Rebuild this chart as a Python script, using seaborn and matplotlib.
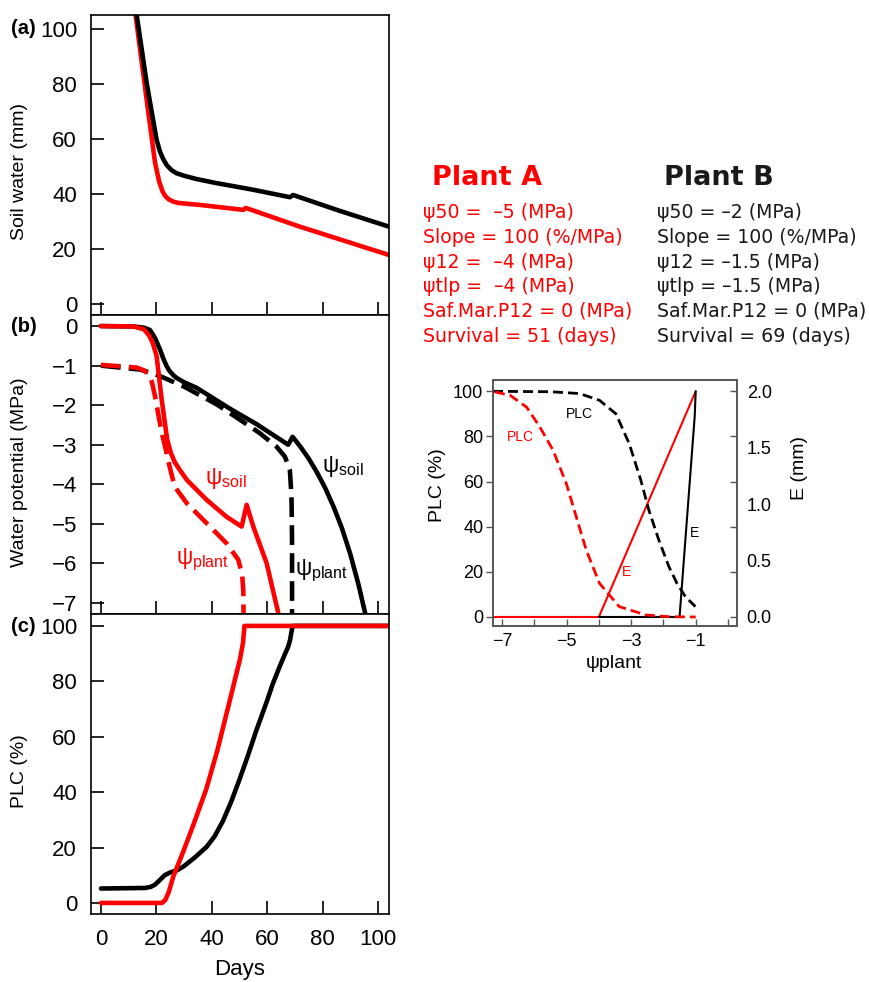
import numpy as np
import pandas as pd
import matplotlib
matplotlib.use('Agg')
import matplotlib.pyplot as plt
import seaborn as sns

# ---------------- data ----------------
# (a) soil water (mm)
sw_days_B = [0, 12.9, 16.5, 20.1, 21.3, 22.5, 23.7, 25.5, 27.3, 30.0, 34.5, 41.8, 55.0, 68.2, 69.4, 86.0, 104.0]
sw_B = [185, 105, 80.3, 59.6, 55.4, 52.6, 50.5, 48.6, 47.5, 46.6, 45.4, 43.9, 41.5, 38.8, 39.6, 33.9, 28.1]
sw_days_A = [0, 12.5, 16.5, 19.5, 21.0, 22.2, 23.2, 24.5, 26.1, 28.0, 35.7, 51.4, 52.3, 71.8, 104.0]
sw_A = [190, 105, 74.2, 51.5, 44.5, 41.0, 39.2, 38.0, 37.2, 36.7, 36.0, 34.2, 34.9, 28.1, 17.8]

# (b) water potential (MPa)
psis_days_A = [0, 11.7, 15.5, 17.5, 18.8, 20.1, 21.9, 23.9, 25.2, 26.7, 28.5, 31.0, 38.1, 45.3, 50.8, 52.6, 55.0, 59.8, 64.5]
psis_A = [0, -0.01, -0.08, -0.25, -0.45, -0.76, -1.85, -2.86, -3.2, -3.45, -3.64, -3.89, -4.39, -4.82, -5.07, -4.52, -5.07, -5.99, -7.4]
psip_days_A = [0, 12.9, 15.5, 17.1, 18.4, 19.5, 21.9, 23.1, 24.6, 26.6, 31.0, 38.1, 45.3, 49.6, 51.0, 51.4, 51.5]
psip_A = [-0.98, -1.05, -1.12, -1.22, -1.42, -1.77, -2.69, -3.03, -3.5, -4.06, -4.48, -4.98, -5.49, -5.91, -6.3, -6.7, -7.4]
psis_days_B = [0, 11.7, 15.5, 17.7, 19.5, 21.3, 22.5, 23.7, 24.6, 26.1, 27.3, 30.0, 34.5, 46.6, 56.2, 67.6,
               69.2, 72.0, 75.0, 78.0, 81.0, 84.0, 87.0, 90.0, 93.0, 96.0]
psis_B = [0, -0.01, -0.04, -0.1, -0.3, -0.59, -0.82, -1.01, -1.12, -1.24, -1.31, -1.42, -1.56, -2.09, -2.48, -3.0,
          -2.8, -3.05, -3.35, -3.70, -4.10, -4.57, -5.11, -5.76, -6.54, -7.44]
psip_days_B = [0, 14.1, 18.9, 22.5, 29.7, 41.8, 52.6, 57.4, 63.4, 66.4, 68.2, 68.8, 69.0, 69.0]
psip_B = [-1.0, -1.1, -1.2, -1.3, -1.52, -1.98, -2.48, -2.71, -3.05, -3.3, -3.64, -4.31, -5.5, -7.4]

# (c) PLC (%)
plc_days_A = [0, 22.0, 23.2, 24.5, 26.1, 29.7, 33.3, 38.0, 42.0, 46.0, 50.2, 51.3, 51.8, 104]
plc_A = [0, 0, 1.0, 4.0, 9.5, 18.5, 28.0, 41.0, 55.0, 71.0, 88.0, 94.0, 100, 100]
plc_days_B = [0, 16, 18, 19.5, 21, 23, 25, 27.5, 30, 34, 38.2, 41, 44, 47, 50, 53, 56, 59.8, 62, 64.6, 66.5, 67.6, 68.3, 68.8, 69.2, 104]
plc_B = [5.2, 5.4, 5.8, 6.6, 8.0, 10.0, 11.0, 11.8, 13.3, 16.5, 20.3, 24.0, 29.5, 36.5, 44.5, 53.0, 62.0, 72.5, 79.0, 85.5, 90.0, 92.5, 95.0, 98.0, 100, 100]

# inset: PLC and E vs psi plant
ins_psi_B = [-7.28, -5.5, -4.6, -3.98, -3.47, -3.06, -2.7, -2.45, -2.14, -1.83, -1.58, -1.32, -1.01]
ins_plc_B = [100, 99.8, 99, 96, 90, 76.8, 60.6, 47.3, 34, 22.3, 14.9, 9, 4.6]
ins_psi_A = [-7.22, -6.75, -6.24, -5.83, -5.42, -5.01, -4.70, -4.39, -3.98, -3.37, -2.55, -1.83, -1.0]
ins_plc_A = [99.7, 98.2, 93, 84.2, 73.9, 59.2, 44.4, 29.6, 14.9, 4.6, 0.9, 0.1, 0]
e_psi_A = [-7.28, -4.0, -1.0]
e_A = [0, 0, 2.0]
e_psi_B = [-4.0, -1.5, -1.03, -1.0]
e_B = [0, 0, 1.78, 2.0]

params_A = ["ψ50 =  –5 (MPa)", "Slope = 100 (%/MPa)", "ψ12 =  –4 (MPa)",
            "ψtlp =  –4 (MPa)", "Saf.Mar.P12 = 0 (MPa)", "Survival = 51 (days)"]
params_B = ["ψ50 = –2 (MPa)", "Slope = 100 (%/MPa)", "ψ12 = –1.5 (MPa)",
            "ψtlp = –1.5 (MPa)", "Saf.Mar.P12 = 0 (MPa)", "Survival = 69 (days)"]

day_ticks = [0, 20, 40, 60, 80, 100]

# ---------------- style ----------------
sns.set_theme(style='white')
plt.rcParams['font.family'] = ['Liberation Sans', 'DejaVu Sans']
plt.rcParams['text.color'] = 'black'
plt.rcParams['axes.labelcolor'] = 'black'
plt.rcParams['lines.solid_capstyle'] = 'round'
plt.rcParams['lines.dash_capstyle'] = 'butt'
RED = '#ff0000'
BLK = '#000000'
DARK = '#1a1a1a'

W, H = 869, 982
fig = plt.figure(figsize=(W / 100, H / 100), dpi=100)
fig.patch.set_facecolor('white')


def box(l, t, r, b):
    return [l / W, 1 - b / H, (r - l) / W, (b - t) / H]


def line(ax, x, y, color, lw=3.3, dashes=None):
    df = pd.DataFrame({'x': x, 'y': y})
    sns.lineplot(data=df, x='x', y='y', ax=ax, color=color, linewidth=lw,
                 sort=False, estimator=None, legend=False)
    ln = ax.lines[-1]
    if dashes is not None:
        ln.set_dashes(dashes)
    return ln


axA = fig.add_axes(box(91, 15, 389, 315))
axB = fig.add_axes(box(91, 315, 389, 614))
axC = fig.add_axes(box(91, 614, 389, 914))

line(axA, sw_days_A, sw_A, RED)
line(axA, sw_days_B, sw_B, BLK)

line(axB, psip_days_B, psip_B, BLK, dashes=(4.3, 1.8))
line(axB, psis_days_B, psis_B, BLK)
line(axB, psip_days_A, psip_A, RED, dashes=(4.3, 1.8))
line(axB, psis_days_A, psis_A, RED)

line(axC, plc_days_B, plc_B, BLK)
line(axC, plc_days_A, plc_A, RED)

axA.set_ylim(-4, 105)
axA.set_yticks([0, 20, 40, 60, 80, 100])
axB.set_ylim(-7.28, 0.28)
axB.set_yticks([0, -1, -2, -3, -4, -5, -6, -7])
axC.set_ylim(-4, 104.3)
axC.set_yticks([0, 20, 40, 60, 80, 100])

for ax in (axA, axB, axC):
    ax.set_xlim(-3.6, 104)
    ax.set_xticks(day_ticks)
    ax.set_xlabel('')
    ax.set_ylabel('')
    ax.set_facecolor('white')
    for s in ax.spines.values():
        s.set_visible(True)
        s.set_color('black')
        s.set_linewidth(1.2)
    ax.tick_params(axis='both', which='major', direction='in', length=9.5, width=1.2,
                   colors='black', labelsize=16, bottom=True, left=True)
    ax.tick_params(axis='y', pad=10)
    ax.tick_params(axis='x', pad=11)
    ax.grid(False)
for ax in (axA, axB):
    ax.tick_params(axis='x', labelbottom=False)

# curve labels in (b)
axB.text(45.1, -3.85, r'$\mathregular{ψ_{soil}}$', color=RED, fontsize=16.5, ha='center', va='center')
axB.text(87.2, -3.55, r'$\mathregular{ψ_{soil}}$', color=BLK, fontsize=16.5, ha='center', va='center')
axB.text(36.6, -5.9, r'$\mathregular{ψ_{plant}}$', color=RED, fontsize=16.5, ha='center', va='center')
axB.text(79.8, -6.2, r'$\mathregular{ψ_{plant}}$', color=BLK, fontsize=16.5, ha='center', va='center')

# axis labels & panel letters
fig.text(20 / W, 1 - 172 / H, 'Soil water (mm)', rotation=90, ha='center', va='center', fontsize=14)
fig.text(20 / W, 1 - 472 / H, 'Water potential (MPa)', rotation=90, ha='center', va='center', fontsize=14)
fig.text(20 / W, 1 - 771 / H, 'PLC (%)', rotation=90, ha='center', va='center', fontsize=14)
fig.text(240 / W, 1 - 975 / H, 'Days', ha='center', va='baseline', fontsize=16)
for lab, yy in (('(a)', 29), ('(b)', 326), ('(c)', 626)):
    fig.text(11 / W, 1 - yy / H, lab, fontweight='bold', fontsize=14.5, ha='left', va='center')

# parameter text block
tf = ['DejaVu Sans']
fig.text(432 / W, 1 - 185 / H, 'Plant A', color=RED, fontsize=19.5, fontweight='bold',
         family=tf, ha='left', va='baseline')
fig.text(664 / W, 1 - 185 / H, 'Plant B', color=DARK, fontsize=19.5, fontweight='bold',
         family=tf, ha='left', va='baseline')
for i, (ta, tb) in enumerate(zip(params_A, params_B)):
    yb = 1 - (218.5 + i * 24.6) / H
    fig.text(423 / W, yb, ta, color=RED, fontsize=13.6, family=tf, ha='left', va='baseline')
    fig.text(657 / W, yb, tb, color=DARK, fontsize=13.6, family=tf, ha='left', va='baseline')

# ---------------- inset ----------------
axI = fig.add_axes(box(493, 380, 737, 626))
ax2 = axI.twinx()

line(ax2, e_psi_A, e_A, RED, lw=1.5)
line(ax2, e_psi_B, e_B, BLK, lw=1.5)
line(axI, ins_psi_B, ins_plc_B, BLK, lw=2.0, dashes=(3.6, 1.8))
line(axI, ins_psi_A, ins_plc_A, RED, lw=2.0, dashes=(3.6, 1.8))

axI.set_zorder(ax2.get_zorder() + 1)
axI.patch.set_visible(False)
ax2.patch.set_facecolor('white')

axI.set_xlim(-7.28, 0.28)
axI.set_ylim(-4, 105)
ax2.set_ylim(-0.08, 2.1)
axI.set_xticks([-7, -5, -3, -1])
axI.set_xticks([-6, -4, -2, 0], minor=True)
axI.set_yticks([0, 20, 40, 60, 80, 100])
axI.set_xlabel('')
axI.set_ylabel('')
ax2.set_ylabel('')
ax2.yaxis.remove_overlapping_locs = False
ax2.set_yticks([0, 0.4, 0.8, 1.2, 1.6, 2.0])
ax2.set_yticks([0, 0.5, 1.0, 1.5, 2.0], minor=True)
ax2.set_yticklabels(['0.0', '0.5', '1.0', '1.5', '2.0'], minor=True)
for ax in (axI, ax2):
    ax.grid(False)
    for s in ax.spines.values():
        s.set_visible(True)
        s.set_color('#555555')
        s.set_linewidth(1.2)
axI.tick_params(axis='y', which='major', direction='out', length=5, width=1.0, color='#555555',
                labelsize=13, pad=2, left=True, right=False, labelcolor='black')
axI.tick_params(axis='x', which='both', direction='in', length=5, width=1.0, color='#555555',
                labelsize=13, pad=5, bottom=True, top=False, labelcolor='black')
ax2.tick_params(axis='y', which='major', direction='in', length=5, width=1.0, color='#555555',
                right=True, left=False, labelright=False, labelleft=False)
ax2.tick_params(axis='y', which='minor', length=0, labelsize=13, pad=7, right=True,
                labelright=True, labelcolor='black')

axI.text(-4.6, 90, 'PLC', color=BLK, fontsize=10, ha='center', va='center')
axI.text(-6.42, 79.6, 'PLC', color=RED, fontsize=10, ha='center', va='center')
axI.text(-3.15, 20, 'E', color=RED, fontsize=10, ha='center', va='center')
axI.text(-1.03, 37, 'E', color=BLK, fontsize=10, ha='center', va='center')

fig.text(614 / W, 1 - 663 / H, 'ψplant', ha='center', va='center', fontsize=14)
fig.text(437 / W, 1 - 485 / H, 'PLC (%)', rotation=90, ha='center', va='center', fontsize=14)
fig.text(800 / W, 1 - 468 / H, 'E (mm)', rotation=90, ha='center', va='center', fontsize=14)

fig.savefig('out.png', dpi=100, facecolor='white')
